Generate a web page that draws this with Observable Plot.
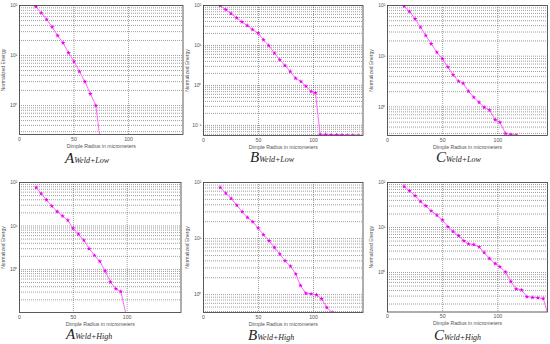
<!DOCTYPE html>
<html><head><meta charset="utf-8">
<script src="https://cdn.jsdelivr.net/npm/d3@7"></script>
<script src="https://cdn.jsdelivr.net/npm/@observablehq/plot@0.6"></script>
<style>
html,body{margin:0;padding:0;background:#fff;overflow:hidden}
#root{position:relative;width:550px;height:344px;overflow:hidden;background:#fff}
</style>
</head><body><div id="root"></div>
<script>
// ---- data ----
const aLowX = [15,20,25,30,35,40,45,50,55,60,65,70,75];
const aLowY = [95,71,52.5,37,25,17.9,11.3,7.6,4.8,3.0,1.71,1.0,0.14];

const bLowX = [15.1,20.2,25,30.1,34.9,39.8,44.6,49.7,54.5,59.3,64.5,69.3,74.1,78.9,83.7,88.6,93.1,97.9,101.8,106,111.1,116,121.1,125.9,130.7,135.8,140.7];
const bLowY = [100,79,63,49,39,31.6,25,20.4,13.9,10,6.4,4.4,3.16,2.23,1.52,1.26,0.96,0.71,0.66,0.0596,0.059,0.0585,0.058,0.0575,0.057,0.0565,0.056];

const cLowX = [15.1,19.9,25,29.9,34.7,39.6,44.7,49.8,54.7,59.5,64.4,68.6,73.4,78.2,83,87.6,92.4,97.6,101.8,107,111.8,116.6];
const cLowY = [97,76,54.5,37.3,25.6,17.5,12,8.9,6.1,4.3,3.2,2.93,2.03,1.55,1.23,0.98,0.87,0.56,0.5,0.3,0.285,0.275];

const aHighX = [15.5,20.1,25,30,35,40,44.9,49.8,54.8,59.8,64.7,69.7,74.6,79.6,84.5,89.5,94.1,100];
const aHighY = [76.7,55.7,39.8,28.9,21.4,17,13.5,8.8,6.4,4.7,3.0,2.1,1.53,0.92,0.51,0.36,0.31,0.07];

const bHighX = [15.2,20.3,25.2,30.3,35.2,40,44.8,49.7,54.5,59.7,64.5,69.4,74.2,79.1,83.9,88.2,93,97.9,102.7,107.3,112.1,117];
const bHighY = [81.5,64.5,51.9,39.4,30,23.8,19.9,15.4,11.7,9.1,6.9,5.3,4.0,3.2,2.33,1.45,1.06,1.03,0.99,0.84,0.59,0.48];

const cHighX = [15.1,19.9,25.1,29.9,34.7,39.6,44.7,49.8,54.7,59.5,64.4,69.2,73.4,78.2,83.1,87.6,92.4,97.6,101.8,106.9,111.8,116.6,121.5,126.3,131.4,136.3,141.1,145];
const cHighY = [81.5,65.3,50.6,37.8,30.3,23.4,18.8,14.6,10.4,8.15,6.53,5.06,4.3,4.2,3.7,2.78,2.05,1.58,1.34,1.03,0.63,0.43,0.41,0.29,0.28,0.275,0.264,0.13];

// ---- ticks / labels ----
const xTicks = [0, 50, 100];
const xTickLabels = ["0", "50", "100"];
const xGridTicks = [50, 100];
const decadeTicks = [0.1, 1, 10, 100];
const decadeLabels = ["10\u207B\u00B9", "10\u2070", "10\u00B9", "10\u00B2"];
const minorSteps = [1,2,3,4,5,6,7,8,9];
const xTitle = "Dimple Radius in micrometers";
const yTitle = "Normalized Energy";

const panels = [
  {letter:"A", cond:"Weld+Low",  x:aLowX,  y:aLowY,  x0:18.5,  x1:182,   y0:5,   y1:134,   xmax:150, ymin:0.263, cx:65,  cy:163},
  {letter:"B", cond:"Weld+Low",  x:bLowX,  y:bLowY,  x0:202.7, x1:362.2, y0:5,   y1:135,   xmax:145, ymin:0.056, cx:250, cy:162},
  {letter:"C", cond:"Weld+Low",  x:cLowX,  y:cLowY,  x0:387.3, x1:547.3, y0:5,   y1:135,   xmax:145, ymin:0.273, cx:436, cy:162},
  {letter:"A", cond:"Weld+High", x:aHighX, y:aHighY, x0:18.5,  x1:180,   y0:182, y1:312,   xmax:150, ymin:0.102, cx:66,  cy:339},
  {letter:"B", cond:"Weld+High", x:bHighX, y:bHighY, x0:202.7, x1:362.2, y0:182, y1:312,   xmax:145, ymin:0.48,  cx:248, cy:340},
  {letter:"C", cond:"Weld+High", x:cHighX, y:cHighY, x0:387.3, x1:547.3, y0:182, y1:311.5, xmax:145, ymin:0.133, cx:434, cy:340}
];

const root = document.getElementById("root");

function makePanel(p) {
  const data = p.x.map((x, i) => ({x, y: p.y[i]}));
  const mL = 22, mR = 4, mT = 5, mB = 22;
  const W = mL + (p.x1 - p.x0) + mR, H = mT + (p.y1 - p.y0) + mB;
  const yt = decadeTicks.filter(d => d >= p.ymin && d <= 100);
  const minor = [];
  for (const d of [0.01, 0.1, 1, 10]) for (const k of minorSteps) {
    const v = d * k;
    if (v > p.ymin && v < 100) minor.push(v);
  }
  const grid = {stroke: "#333", strokeOpacity: 0.8, strokeDasharray: "1,1", strokeWidth: 0.6};
  const chart = Plot.plot({
    width: W, height: H,
    marginLeft: mL, marginRight: mR, marginTop: mT, marginBottom: mB,
    x: {domain: [0, p.xmax]},
    y: {type: "log", domain: [p.ymin, 100]},
    style: {fontFamily: "'Liberation Sans', Arial, sans-serif", background: "transparent", overflow: "visible", color: "#555"},
    marks: [
      Plot.gridY(minor, grid),
      Plot.gridX(xGridTicks, grid),
      Plot.axisX(xTicks, {tickSize: 0, tickPadding: 2.5, fontSize: 5.2, tickFormat: d => xTickLabels[xTicks.indexOf(d)],
        label: xTitle, labelAnchor: "center", labelArrow: "none", labelOffset: 13}),
      Plot.axisY(yt, {tickSize: 0, tickPadding: 2, fontSize: 5, tickFormat: d => decadeLabels[decadeTicks.indexOf(d)],
        label: yTitle, labelAnchor: "center", labelArrow: "none", labelOffset: 18}),
      Plot.line(data, {x: "x", y: "y", stroke: "#ff66ff", strokeWidth: 1, clip: true}),
      Plot.dot(data, {x: "x", y: "y", symbol: "star", r: 1.5, fill: "#ee00ee", stroke: "none", clip: true}),
      Plot.frame({stroke: "#333", strokeWidth: 0.8})
    ]
  });
  chart.style.position = "absolute";
  chart.style.left = (p.x0 - mL) + "px";
  chart.style.top = (p.y0 - mT) + "px";
  root.append(chart);
}

panels.forEach(makePanel);

// captions
const cap = d3.create("svg").attr("width", 550).attr("height", 344)
  .style("position", "absolute").style("left", "0px").style("top", "0px").style("pointer-events", "none");
panels.forEach(p => {
  const t = cap.append("text").attr("x", p.cx).attr("y", p.cy)
    .attr("font-family", "'Liberation Serif', 'Times New Roman', serif").attr("font-style", "italic").attr("fill", "#222");
  t.append("tspan").attr("font-size", 15).text(p.letter);
  t.append("tspan").attr("font-size", 8).attr("dy", -0.5).text(p.cond);
});
root.append(cap.node());
</script>
</body></html>
